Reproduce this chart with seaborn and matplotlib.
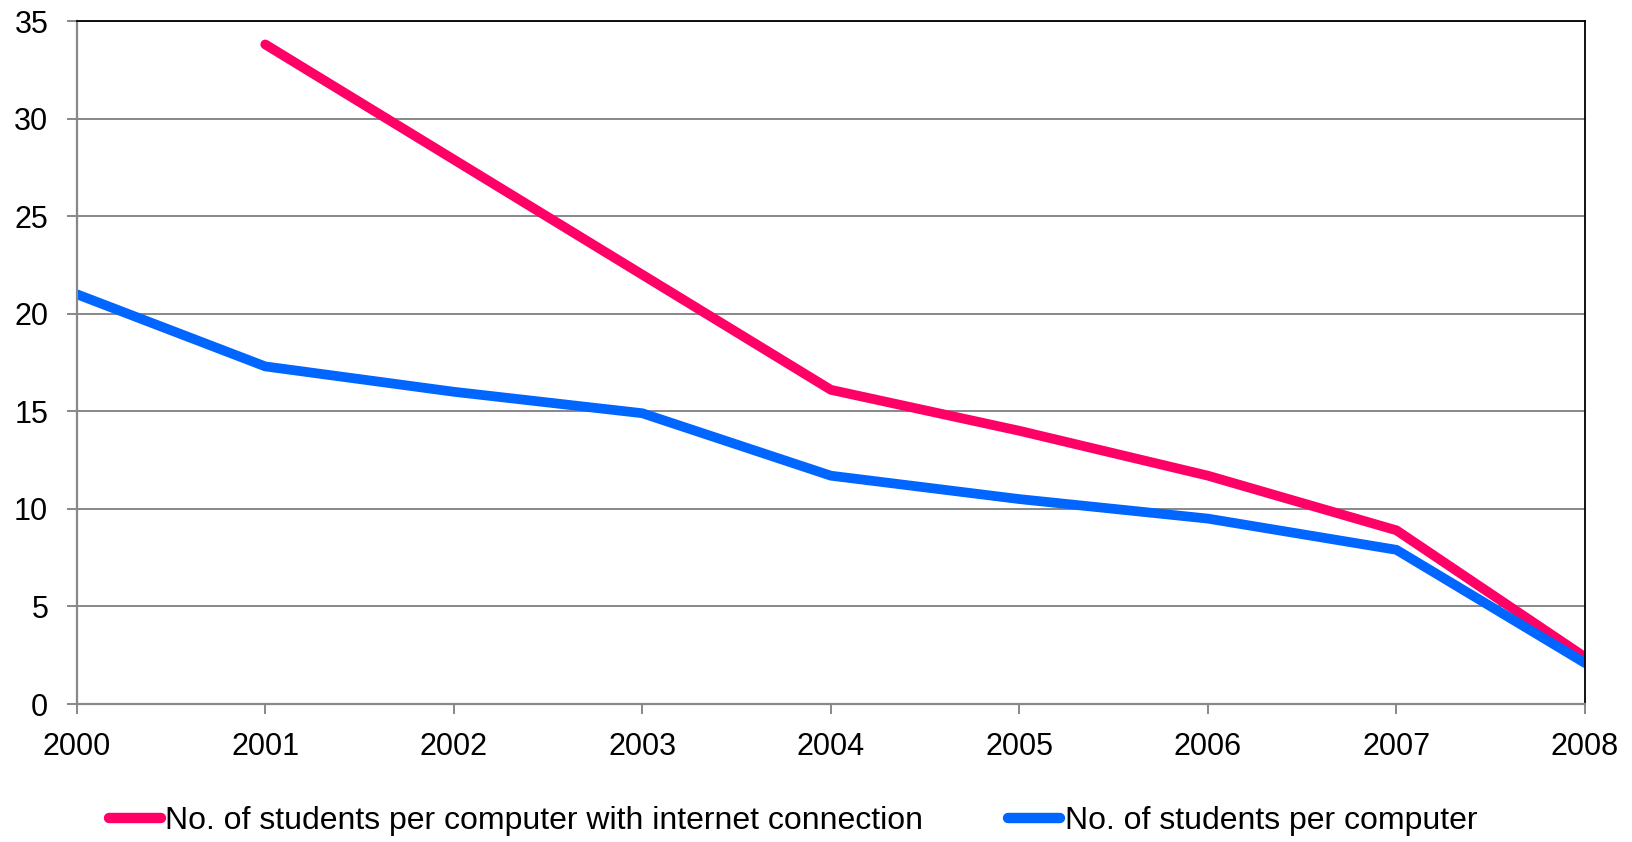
import numpy as np
import pandas as pd
import matplotlib
matplotlib.use("Agg")
import matplotlib.pyplot as plt
import seaborn as sns
from matplotlib.lines import Line2D

years = [2000, 2001, 2002, 2003, 2004, 2005, 2006, 2007, 2008]
internet = [np.nan, 33.8, 27.9, 22.0, 16.1, 14.0, 11.7, 8.9, 2.4]
computer = [21.0, 17.3, 16.0, 14.9, 11.7, 10.5, 9.5, 7.9, 2.1]
labels = ["No. of students per computer with internet connection",
          "No. of students per computer"]
colors = ["#FF0066", "#0066FF"]

df = pd.DataFrame({
    "year": years * 2,
    "value": internet + computer,
    "series": [labels[0]] * len(years) + [labels[1]] * len(years),
})

sns.set_theme(style="white")
plt.rcParams['font.family'] = ['Liberation Sans', 'DejaVu Sans']
plt.rcParams['text.color'] = 'black'

W, H = 1632, 842
L, R, T, B = 76.7, 1585, 21, 704
fig = plt.figure(figsize=(W/100, H/100), dpi=100)
ax = fig.add_axes([L/W, 1 - B/H, (R-L)/W, (B-T)/H])

sns.lineplot(data=df, x="year", y="value", hue="series", hue_order=labels,
             palette=colors, linewidth=7, ax=ax, legend=False,
             solid_capstyle="round", solid_joinstyle="miter")

ax.set_xlim(2000, 2008)
ax.set_ylim(0, 35)
ax.set_xticks(years)
ax.set_xticklabels([str(y) for y in years])
ax.set_yticks(range(0, 36, 5))
ax.set_xlabel("")
ax.set_ylabel("")
ax.grid(axis="y", color="#888888", linewidth=1.4)
ax.set_axisbelow(True)
for s in ["left", "bottom"]:
    ax.spines[s].set_color("#888888")
    ax.spines[s].set_linewidth(1.6)
for s in ["top", "right"]:
    ax.spines[s].set_color("black")
    ax.spines[s].set_linewidth(1.3)
ax.tick_params(axis="both", which="major", direction="out", length=7, width=1.4,
               color="#888888", labelsize=22, labelcolor="black")
ax.tick_params(axis="x", pad=13, bottom=True)
ax.tick_params(axis="y", pad=13.5, left=True)

handles = [Line2D([0], [0], color=c, linewidth=7.5, solid_capstyle="round") for c in colors]
fig.legend(handles, labels, loc="center", bbox_to_anchor=(793/W, 1 - 821/H), ncol=2,
           frameon=False, fontsize=23, handlelength=1.63, handletextpad=0.15,
           columnspacing=2.65, borderpad=0, borderaxespad=0)

fig.savefig("out.png", dpi=100, facecolor="white")
